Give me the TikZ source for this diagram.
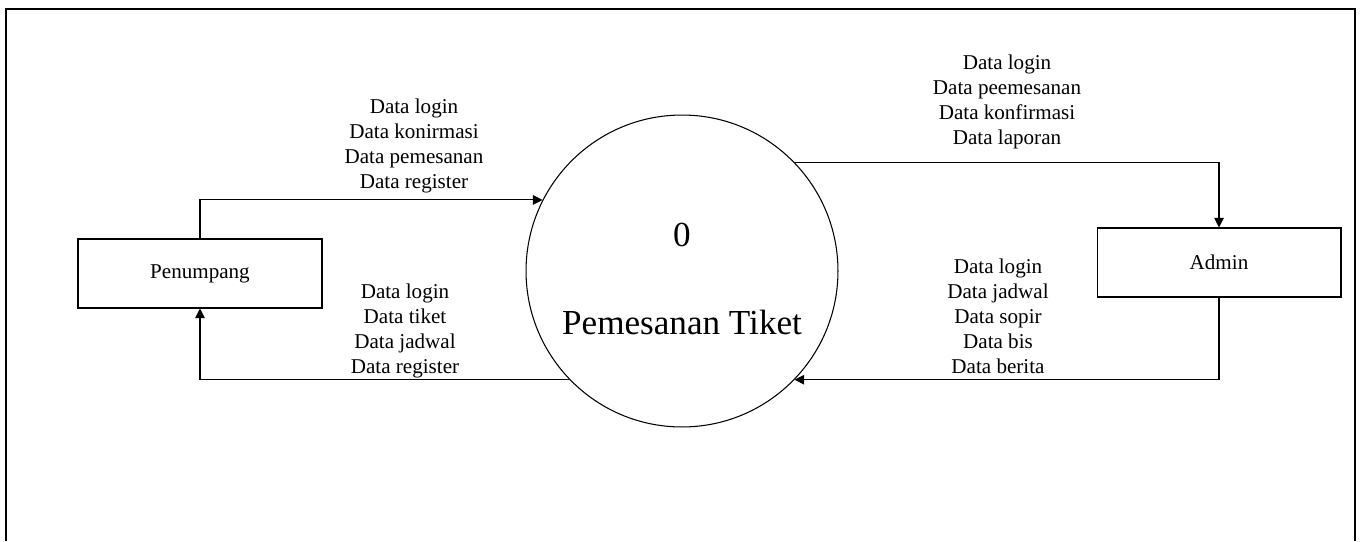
\documentclass[tikz,border=0pt]{standalone}
\usepackage{fontspec}
\setmainfont{Liberation Serif}
\usetikzlibrary{arrows.meta}

\begin{document}
\begin{tikzpicture}[x=0.02cm, y=-0.02cm, line width=0.6pt,
                        entitas/.style={draw, minimum width=4.88cm, minimum height=1.38cm,
                                        inner sep=0pt, font=\fontsize{12}{14.2}\selectfont},
                        proses/.style={draw, circle, minimum size=6.24cm, inner sep=0pt},
                        judul/.style={font=\fontsize{20}{24}\selectfont},
                        ket/.style={align=center, inner sep=0pt, font=\fontsize{12}{14.2}\selectfont},
                        alir/.style={-{Triangle[length=5.5pt, width=5.5pt]}}]
        \useasboundingbox (0,0) rectangle (1362,541);
        \draw[line width=0.8pt] (6,541) -- (6,9) -- (1355,9) -- (1355,541);

        \node[entitas] (penumpang) at (200,273.5) {Penumpang};
        \node[entitas] (admin) at (1219,262.5) {Admin};
        \node[proses] (sistem) at (682,271) {};
        \node[judul] (nomor) at (682,235) {0};
        \node[judul] (nama) at (682,322) {Pemesanan Tiket};

        % aliran data
        \draw[alir] (penumpang.north) |- (sistem.153.7);
        \draw[alir] (sistem.224.8) -| (penumpang.south);
        \draw[alir] (sistem.44.8) -| (admin.north);
        \draw[alir] (admin.south) |- (sistem.-44.8);

        \node[ket] (ketmasuk) at (414,146) {Data login\\Data konirmasi\\Data pemesanan\\Data register};
        \node[ket] (ketkeluar) at (405,331) {Data login\\Data tiket\\Data jadwal\\Data register};
        \node[ket] (ketadmin) at (1007,102) {Data login\\Data peemesanan\\Data konfirmasi\\Data laporan};
        \node[ket] (ketbalik) at (998,316) {Data login\\Data jadwal\\Data sopir\\Data bis\\Data berita};
    \end{tikzpicture}
\end{document}
